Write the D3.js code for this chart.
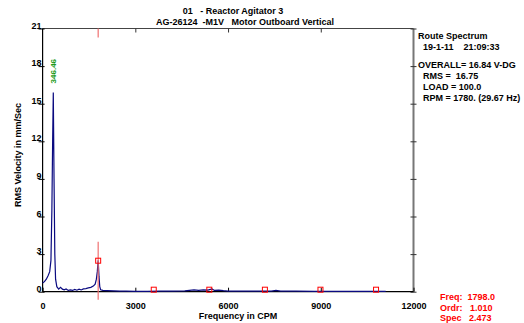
<!DOCTYPE html>
<html>
<head>
<meta charset="utf-8">
<script src="https://cdn.jsdelivr.net/npm/d3@7"></script>
<style>
  body { margin: 0; background: #fff; }
  svg { font-family: "Liberation Sans", Arial, sans-serif; font-weight: bold; }
</style>
</head>
<body>
<div id="chart"></div>
<script>
// spectrum (CPM, mm/s RMS)
const freqs = [0, 60, 120, 180, 230, 270, 300, 325, 346, 370, 395, 420, 460, 520, 580, 640, 700, 760, 830, 900,
  970, 1040, 1110, 1180, 1250, 1320, 1400, 1480, 1560, 1640, 1700, 1740, 1770, 1798, 1825, 1850, 1880, 1950,
  2100, 2300, 2500, 2700, 3000, 3400, 3800, 4200, 4600, 4750, 4900, 5050, 5200, 5350, 5480, 5560, 5700, 5850,
  6000, 6400, 6900, 7400, 7550, 7700, 8200, 8800, 9400, 10000, 10600, 11100];
const amps = [0.7, 0.8, 1.0, 1.3, 1.6, 2.5, 6.5, 12.0, 15.9, 9.0, 3.0, 1.0, 0.4, 0.2, 0.35, 0.2, 0.15, 0.22, 0.1, 0.15,
  0.1, 0.18, 0.12, 0.2, 0.14, 0.22, 0.25, 0.3, 0.35, 0.45, 0.6, 1.0, 1.6, 2.5, 1.2, 0.4, 0.15, 0.1,
  0.08, 0.06, 0.05, 0.04, 0.03, 0.03, 0.04, 0.05, 0.06, 0.1, 0.14, 0.1, 0.15, 0.12, 0.22, 0.1, 0.12, 0.08,
  0.05, 0.04, 0.04, 0.05, 0.1, 0.05, 0.04, 0.03, 0.03, 0.03, 0.03, 0.02];

const peakLabel = {freq: 346, amp: 15.9, text: '346.46'};
const cursor = {freq: 1798, amp: 2.473};
const harmonics = [3596, 5394, 7192, 8990, 10788];
const harmonicAmp = 0.12;

const xTicks = [0, 3000, 6000, 9000, 12000];
const yTicks = [0, 3, 6, 9, 12, 15, 18, 21];

const titleLines = ['01   - Reactor Agitator 3', 'AG-26124  -M1V   Motor Outboard Vertical'];
const infoTop = ['Route Spectrum', '  19-1-11    21:09:33'];
const infoMid = ['OVERALL= 16.84 V-DG', '  RMS =  16.75', '  LOAD = 100.0', '  RPM = 1780. (29.67 Hz)'];
const cursorText = ['Freq:  1798.0', 'Ordr:   1.010', 'Spec   2.473'];

const W = 524, H = 323;
const plot = {left: 42.6, right: 413.5, top: 28.5, bottom: 291.7};

const svg = d3.select('#chart').append('svg')
  .attr('width', W).attr('height', H)
  .style('font-size', '9px');

const x = d3.scaleLinear().domain([0, 12000]).range([plot.left, plot.right]);
const y = d3.scaleLinear().domain([0, 21]).range([plot.bottom, plot.top]);

// titles
svg.append('g').selectAll('text').data(titleLines).join('text')
  .attr('x', (d, i) => i === 0 ? 233 : 245)
  .attr('y', (d, i) => 14 + i * 11)
  .attr('text-anchor', 'middle')
  .attr('xml:space', 'preserve')
  .text(d => d);

// frame: top and right
svg.append('line').attr('x1', plot.left).attr('x2', plot.right)
  .attr('y1', plot.top).attr('y2', plot.top).attr('stroke', '#444').attr('stroke-width', 1.2);
svg.append('line').attr('x1', plot.right).attr('x2', plot.right)
  .attr('y1', plot.top).attr('y2', plot.bottom).attr('stroke', '#777').attr('stroke-width', 2);

// top ticks (pointing down)
svg.append('g').attr('transform', `translate(0,${plot.top})`)
  .call(d3.axisTop(x).tickValues([3000, 6000, 9000]).tickSize(-4).tickFormat(''))
  .call(g => g.select('.domain').remove())
  .selectAll('line').attr('stroke', '#333');

// right ticks (crossing)
svg.append('g').attr('transform', `translate(${plot.right},0)`)
  .call(d3.axisRight(y).tickValues(yTicks).tickFormat(''))
  .call(g => g.select('.domain').remove())
  .selectAll('line').attr('x1', -3).attr('x2', 3).attr('stroke', '#333');

// bottom axis
const xa = svg.append('g').attr('transform', `translate(0,${plot.bottom})`)
  .call(d3.axisBottom(x).tickValues(xTicks).tickSize(0).tickFormat(d3.format('d')));
xa.select('.domain').attr('d', `M${plot.left},0H${plot.right}`).attr('stroke', '#000').attr('stroke-width', 1.2);
xa.selectAll('.tick line').attr('y1', 0).attr('y2', -4).attr('stroke', '#000');
xa.selectAll('.tick text').attr('y', 11).attr('font-size', '9px').attr('font-family', null).attr('fill', '#000');

// left axis
const ya = svg.append('g').attr('transform', `translate(${plot.left},0)`)
  .call(d3.axisLeft(y).tickValues(yTicks).tickSize(0));
ya.select('.domain').attr('d', `M0,${plot.top}V${plot.bottom}`).attr('stroke', '#000').attr('stroke-width', 1.2);
ya.selectAll('.tick line').attr('x1', -4).attr('x2', 2).attr('stroke', '#000');
ya.selectAll('.tick text').attr('x', -1).attr('dy', '-0.05em').attr('font-size', '9px').attr('font-family', null).attr('fill', '#000');

// axis titles
svg.append('text').attr('x', 238).attr('y', 319).attr('text-anchor', 'middle').text('Frequency in CPM');
svg.append('text').attr('transform', 'translate(21,155) rotate(-90)').attr('text-anchor', 'middle')
  .text('RMS Velocity in mm/Sec');

// spectrum
const spec = freqs.map((f, i) => [f, amps[i]]);
svg.append('path').datum(spec)
  .attr('fill', 'none').attr('stroke', '#0a0a80').attr('stroke-width', 1.2)
  .attr('d', d3.line().x(d => x(d[0])).y(d => y(d[1])));

// peak label
svg.append('text')
  .attr('transform', `translate(${x(peakLabel.freq) + 3},${y(peakLabel.amp) - 9}) rotate(-90)`)
  .attr('fill', '#1a9a1a').attr('font-size', '8px')
  .text(peakLabel.text);

// cursor
const red = '#f07070';
svg.append('line').attr('x1', x(cursor.freq)).attr('x2', x(cursor.freq))
  .attr('y1', y(cursor.amp) - 19).attr('y2', plot.bottom + 8).attr('stroke', red).attr('stroke-width', 1.2);
svg.append('line').attr('x1', x(cursor.freq)).attr('x2', x(cursor.freq))
  .attr('y1', plot.top).attr('y2', plot.top + 9).attr('stroke', red).attr('stroke-width', 1.2);
svg.append('rect').attr('x', x(cursor.freq) - 2.5).attr('y', y(cursor.amp) - 2.5)
  .attr('width', 5).attr('height', 5).attr('fill', 'none').attr('stroke', '#f00');

// harmonic markers
svg.append('g').selectAll('rect').data(harmonics).join('rect')
  .attr('x', d => x(d) - 2.5).attr('y', y(harmonicAmp) - 3)
  .attr('width', 5).attr('height', 5).attr('fill', 'none').attr('stroke', '#f00');

// info text on right
svg.append('g').selectAll('text').data(infoTop).join('text')
  .attr('x', 418).attr('y', (d, i) => 39 + i * 11).attr('xml:space', 'preserve').text(d => d);
svg.append('g').selectAll('text').data(infoMid).join('text')
  .attr('x', 418).attr('y', (d, i) => 68 + i * 11).attr('xml:space', 'preserve').text(d => d);

// cursor readout
svg.append('g').selectAll('text').data(cursorText).join('text')
  .attr('x', 440).attr('y', (d, i) => 300 + i * 10.5).attr('fill', '#f00')
  .attr('xml:space', 'preserve').text(d => d);
</script>
</body>
</html>
